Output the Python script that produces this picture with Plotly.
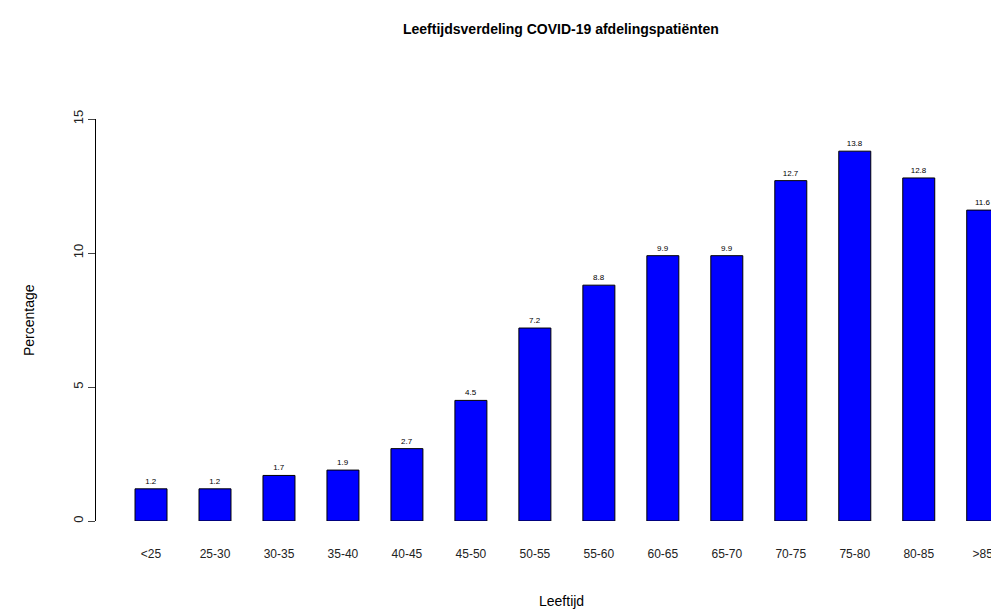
import plotly.graph_objects as go

leeftijd = ["<25", "25-30", "30-35", "35-40", "40-45", "45-50", "50-55",
            "55-60", "60-65", "65-70", "70-75", "75-80", "80-85", ">85"]
percentage = [1.2, 1.2, 1.7, 1.9, 2.7, 4.5, 7.2, 8.8, 9.9, 9.9, 12.7, 13.8, 12.8, 11.6]

pos = list(range(len(leeftijd)))

fig = go.Figure(go.Bar(
    x=pos, y=percentage, width=0.5,
    marker=dict(color="#0000ff", line=dict(color="black", width=1)),
    text=[str(v) for v in percentage], textposition="outside",
    textfont=dict(size=8, color="black", family="Liberation Sans"),
    cliponaxis=False,
))

fig.update_layout(
    width=999, height=612,
    plot_bgcolor="white", paper_bgcolor="white",
    margin=dict(l=88, r=7, t=111, b=99),
    font=dict(family="Liberation Sans", color="black"),
    showlegend=False,
    xaxis=dict(range=[-0.86, 13.27], tickvals=pos, ticktext=leeftijd,
               showgrid=False, zeroline=False, showline=False,
               tickfont=dict(size=12, color="#222"), ticklen=0, ticklabelstandoff=24),
    yaxis=dict(range=[0, 15], tickvals=[0, 5, 10, 15], tickangle=-90,
               showgrid=False, zeroline=False, showline=True, linecolor="black",
               ticks="outside", ticklen=7, tickfont=dict(size=13, color="#222")),
    annotations=[
        dict(text="<b>Leeftijdsverdeling COVID-19 afdelingspatiënten</b>",
             x=(560 - 95) / 904, y=1 + (118 - 18) / 402,
             xref="paper", yref="paper", showarrow=False, font=dict(size=14)),
        dict(text="Leeftijd", x=(560 - 95) / 904, y=-(600 - 520) / 402, yanchor="middle",
             xref="paper", yref="paper", showarrow=False, font=dict(size=14)),
        dict(text="Percentage", x=-(95 - 18) / 904, y=0.5, xref="paper", yref="paper",
             showarrow=False, textangle=-90, font=dict(size=14)),
    ],
)

fig.write_html("out.html")
